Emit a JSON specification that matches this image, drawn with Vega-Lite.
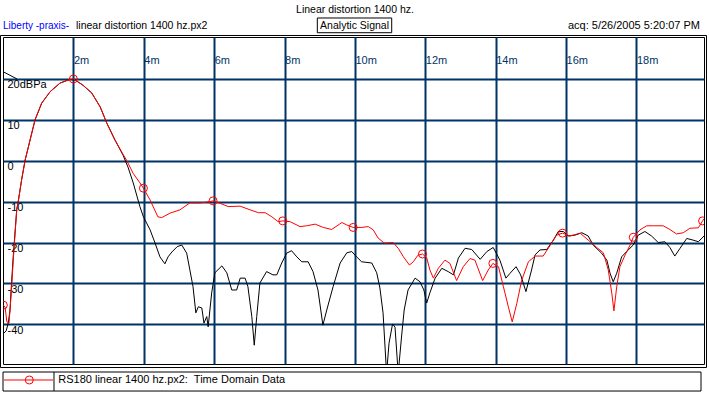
{
  "$schema": "https://vega.github.io/schema/vega-lite/v6.json",
  "width": 701,
  "height": 327,
  "autosize": {"type": "none"},
  "padding": {"left": 3, "top": 37, "right": 5, "bottom": 31},
  "background": "white",
  "config": {"view": {"stroke": "black", "strokeWidth": 1}, "font": "Liberation Sans", "text": {"font": "Liberation Sans", "fontSize": 10.5}},
  "datasets": {
    "black": [
      {"t":0.03,"db":-42.1},{"t":0.09,"db":-41.6},{"t":0.15,"db":-39.7},{"t":0.2,"db":-36.5},{"t":0.23,"db":-31.6},{"t":0.29,"db":-23.5},{"t":0.34,"db":-17.7},{"t":0.39,"db":-12.0},{"t":0.44,"db":-9.6},{"t":0.53,"db":-4.6},{"t":0.63,"db":0.2},{"t":0.77,"db":5.1},{"t":0.91,"db":10.0},{"t":1.1,"db":14.1},{"t":1.34,"db":16.9},{"t":1.62,"db":19.0},{"t":1.9,"db":19.9},{"t":2.05,"db":19.75},{"t":2.27,"db":18.5},{"t":2.52,"db":16.6},{"t":2.76,"db":13.2},{"t":2.95,"db":9.2},{"t":3.18,"db":5.1},{"t":3.41,"db":1.4},{"t":3.55,"db":-1.5},{"t":3.7,"db":-5.4},{"t":3.89,"db":-11.2},{"t":3.99,"db":-13.7},{"t":4.18,"db":-16.9},{"t":4.32,"db":-20.1},{"t":4.46,"db":-23.5},{"t":4.6,"db":-25.2},{"t":4.69,"db":-23.5},{"t":4.8,"db":-22.3},{"t":4.95,"db":-21.0},{"t":5.08,"db":-20.6},{"t":5.22,"db":-22.6},{"t":5.31,"db":-26.7},{"t":5.4,"db":-30.8},{"t":5.48,"db":-37.2},{"t":5.55,"db":-35.7},{"t":5.65,"db":-36.0},{"t":5.71,"db":-39.7},{"t":5.79,"db":-38.1},{"t":5.83,"db":-40.6},{"t":5.93,"db":-32.3},{"t":6.02,"db":-27.4},{"t":6.22,"db":-25.7},{"t":6.36,"db":-27.4},{"t":6.5,"db":-31.6},{"t":6.64,"db":-31.6},{"t":6.74,"db":-28.7},{"t":6.88,"db":-28.7},{"t":6.96,"db":-30.8},{"t":7.07,"db":-38.1},{"t":7.14,"db":-45.1},{"t":7.21,"db":-38.1},{"t":7.3,"db":-29.9},{"t":7.49,"db":-27.1},{"t":7.67,"db":-27.9},{"t":7.78,"db":-27.9},{"t":7.92,"db":-25.0},{"t":8.06,"db":-22.6},{"t":8.2,"db":-22.0},{"t":8.35,"db":-23.5},{"t":8.49,"db":-24.7},{"t":8.67,"db":-24.7},{"t":8.81,"db":-27.1},{"t":8.95,"db":-31.6},{"t":9.09,"db":-40.2},{"t":9.2,"db":-36.5},{"t":9.38,"db":-30.8},{"t":9.58,"db":-25.0},{"t":9.77,"db":-22.5},{"t":9.91,"db":-22.2},{"t":10.05,"db":-23.5},{"t":10.19,"db":-24.7},{"t":10.48,"db":-25.0},{"t":10.62,"db":-27.4},{"t":10.71,"db":-31.1},{"t":10.8,"db":-37.2},{"t":10.9,"db":-52},{"t":10.97,"db":-44.6},{"t":11.07,"db":-39.9},{"t":11.14,"db":-40.7},{"t":11.23,"db":-52},{"t":11.33,"db":-42.6},{"t":11.4,"db":-36.5},{"t":11.51,"db":-31.6},{"t":11.71,"db":-28.7},{"t":11.85,"db":-29.6},{"t":11.96,"db":-31.6},{"t":12.04,"db":-34.8},{"t":12.13,"db":-32.3},{"t":12.28,"db":-28.7},{"t":12.47,"db":-26.3},{"t":12.65,"db":-27.1},{"t":12.8,"db":-27.9},{"t":12.94,"db":-23.8},{"t":13.13,"db":-21.4},{"t":13.32,"db":-21.7},{"t":13.56,"db":-24.1},{"t":13.75,"db":-22.2},{"t":13.93,"db":-21.2},{"t":14.12,"db":-24.3},{"t":14.29,"db":-28.7},{"t":14.41,"db":-27.5},{"t":14.58,"db":-25.9},{"t":14.71,"db":-27.9},{"t":14.86,"db":-32.0},{"t":15.02,"db":-26.7},{"t":15.12,"db":-23.0},{"t":15.26,"db":-21.8},{"t":15.45,"db":-21.7},{"t":15.64,"db":-19.4},{"t":15.78,"db":-17.3},{"t":15.92,"db":-17.3},{"t":16.06,"db":-18.4},{"t":16.25,"db":-18.2},{"t":16.45,"db":-17.6},{"t":16.63,"db":-18.4},{"t":16.77,"db":-20.6},{"t":17.01,"db":-22.6},{"t":17.16,"db":-24.3},{"t":17.25,"db":-27.5},{"t":17.34,"db":-29.6},{"t":17.44,"db":-27.5},{"t":17.58,"db":-23.5},{"t":17.72,"db":-22.2},{"t":17.91,"db":-20.6},{"t":18.05,"db":-18.2},{"t":18.24,"db":-17.3},{"t":18.43,"db":-18.4},{"t":18.62,"db":-20.0},{"t":18.81,"db":-19.8},{"t":18.95,"db":-21.2},{"t":19.09,"db":-23.3},{"t":19.24,"db":-21.4},{"t":19.43,"db":-19.0},{"t":19.61,"db":-19.4},{"t":19.76,"db":-19.8},{"t":19.92,"db":-18.4}
    ],
    "red": [
      {"t":0.01,"db":-35.3},{"t":0.06,"db":-35.8},{"t":0.11,"db":-39.4},{"t":0.17,"db":-39.7},{"t":0.21,"db":-35.3},{"t":0.24,"db":-31.6},{"t":0.29,"db":-24.5},{"t":0.34,"db":-18.2},{"t":0.39,"db":-12.0},{"t":0.44,"db":-9.6},{"t":0.53,"db":-4.6},{"t":0.63,"db":0.2},{"t":0.77,"db":5.1},{"t":0.91,"db":10.0},{"t":1.1,"db":14.1},{"t":1.34,"db":16.9},{"t":1.62,"db":19.0},{"t":1.9,"db":19.9},{"t":2.0,"db":20.0},{"t":2.05,"db":19.75},{"t":2.27,"db":18.5},{"t":2.52,"db":16.6},{"t":2.76,"db":13.2},{"t":2.95,"db":9.2},{"t":3.18,"db":5.1},{"t":3.41,"db":1.6},{"t":3.52,"db":0.0},{"t":3.7,"db":-3.1},{"t":3.89,"db":-5.4},{"t":3.99,"db":-6.7},{"t":4.18,"db":-9.6},{"t":4.4,"db":-13.7},{"t":4.51,"db":-13.9},{"t":4.75,"db":-12.8},{"t":5.03,"db":-12.0},{"t":5.31,"db":-10.3},{"t":5.6,"db":-10.3},{"t":5.88,"db":-10.0},{"t":5.97,"db":-9.8},{"t":6.17,"db":-10.4},{"t":6.4,"db":-11.2},{"t":6.74,"db":-11.1},{"t":7.02,"db":-12.0},{"t":7.26,"db":-12.7},{"t":7.45,"db":-12.7},{"t":7.64,"db":-13.7},{"t":7.82,"db":-14.9},{"t":7.95,"db":-14.7},{"t":8.16,"db":-14.9},{"t":8.44,"db":-16.1},{"t":8.63,"db":-15.9},{"t":8.87,"db":-15.5},{"t":9.1,"db":-16.3},{"t":9.34,"db":-16.8},{"t":9.63,"db":-15.1},{"t":9.77,"db":-15.7},{"t":9.95,"db":-16.3},{"t":10.19,"db":-16.3},{"t":10.38,"db":-16.1},{"t":10.52,"db":-16.9},{"t":10.66,"db":-18.9},{"t":10.83,"db":-20.1},{"t":11.09,"db":-20.0},{"t":11.23,"db":-21.4},{"t":11.38,"db":-23.5},{"t":11.55,"db":-25.5},{"t":11.66,"db":-24.7},{"t":11.79,"db":-23.1},{"t":11.92,"db":-22.8},{"t":12.04,"db":-23.7},{"t":12.13,"db":-26.7},{"t":12.23,"db":-28.7},{"t":12.37,"db":-26.3},{"t":12.56,"db":-24.3},{"t":12.7,"db":-25.1},{"t":12.89,"db":-29.3},{"t":13.08,"db":-25.9},{"t":13.27,"db":-23.9},{"t":13.41,"db":-24.3},{"t":13.63,"db":-29.3},{"t":13.79,"db":-26.7},{"t":13.92,"db":-25.1},{"t":14.08,"db":-25.9},{"t":14.22,"db":-30.8},{"t":14.36,"db":-35.7},{"t":14.47,"db":-39.4},{"t":14.6,"db":-34.9},{"t":14.74,"db":-29.2},{"t":14.93,"db":-24.7},{"t":15.12,"db":-23.3},{"t":15.35,"db":-23.3},{"t":15.54,"db":-20.8},{"t":15.73,"db":-18.2},{"t":15.9,"db":-17.7},{"t":16.11,"db":-18.4},{"t":16.4,"db":-17.7},{"t":16.63,"db":-19.4},{"t":16.87,"db":-21.2},{"t":17.06,"db":-22.5},{"t":17.2,"db":-26.7},{"t":17.3,"db":-32.4},{"t":17.36,"db":-36.7},{"t":17.44,"db":-30.8},{"t":17.53,"db":-25.9},{"t":17.68,"db":-23.0},{"t":17.82,"db":-20.6},{"t":17.91,"db":-18.7},{"t":18.1,"db":-16.9},{"t":18.29,"db":-15.9},{"t":18.48,"db":-15.9},{"t":18.76,"db":-15.9},{"t":18.95,"db":-16.8},{"t":19.14,"db":-17.9},{"t":19.33,"db":-17.6},{"t":19.52,"db":-16.5},{"t":19.76,"db":-16.4},{"t":19.88,"db":-14.7},{"t":19.92,"db":-14.2}
    ],
    "markers": [
      {"t":0.01,"db":-35.3},{"t":2.0,"db":20.0},{"t":3.99,"db":-6.7},{"t":5.97,"db":-9.8},{"t":7.95,"db":-14.7},{"t":9.95,"db":-16.3},{"t":11.92,"db":-22.8},{"t":13.92,"db":-25.1},{"t":15.9,"db":-17.7},{"t":17.91,"db":-18.7},{"t":19.88,"db":-14.7}
    ]
  },
  "layer": [
    {
      "data": {"name": "black"},
      "mark": {"type": "line", "color": "black", "strokeWidth": 1, "clip": true},
      "encoding": {
        "x": {"field": "t", "type": "quantitative",
          "scale": {"domain": [0, 19.92], "nice": false, "zero": false},
          "axis": {"orient": "top", "values": [2,4,6,8,10,12,14,16,18], "title": null, "domain": false, "ticks": false, "tickSize": 0, "grid": true, "gridColor": "#003366", "gridWidth": 2, "gridOpacity": 1, "labelExpr": "datum.value + 'm'", "labelAlign": "left", "labelDx": 3, "labelBaseline": "alphabetic", "labelPadding": -26.5, "labelColor": "#003366", "labelFontSize": 11, "labelFont": "Liberation Sans", "labelFlush": false, "labelOverlap": false}},
        "y": {"field": "db", "type": "quantitative",
          "scale": {"domain": [-49.7, 30.27], "nice": false, "zero": false},
          "axis": {"orient": "left", "values": [20,10,0,-10,-20,-30,-40], "title": null, "domain": false, "ticks": false, "tickSize": 0, "grid": true, "gridColor": "#003366", "gridWidth": 2, "gridOpacity": 1, "labelExpr": "datum.value == 20 ? '20dBPa' : '' + datum.value", "labelAlign": "left", "labelBaseline": "top", "labelPadding": -4, "labelDy": 3, "labelColor": "black", "labelFontSize": 11, "labelFont": "Liberation Sans", "labelFlush": false, "labelOverlap": false}}
      }
    },
    {
      "data": {"name": "red"},
      "mark": {"type": "line", "color": "#ff0000", "strokeWidth": 1, "clip": true},
      "encoding": {
        "x": {"field": "t", "type": "quantitative"},
        "y": {"field": "db", "type": "quantitative"}
      }
    },
    {
      "data": {"name": "markers"},
      "mark": {"type": "point", "shape": "circle", "filled": false, "color": "#ff0000", "size": 64, "strokeWidth": 1, "opacity": 1, "clip": true},
      "encoding": {
        "x": {"field": "t", "type": "quantitative"},
        "y": {"field": "db", "type": "quantitative"}
      }
    },
    {
      "data": {"values": [{}]},
      "mark": {"type": "rule", "color": "black", "strokeWidth": 1},
      "encoding": {
        "x": {"datum": 0, "type": "quantitative"},
        "y": {"datum": 21.8, "type": "quantitative"},
        "x2": {"datum": 0.4},
        "y2": {"datum": 20}
      }
    },
    {
      "data": {"values": [{}]},
      "mark": {"type": "rect", "fill": null, "fillOpacity": 0, "stroke": "black", "strokeWidth": 1},
      "encoding": {
        "x": {"datum": -0.071, "type": "quantitative"},
        "x2": {"datum": 19.991},
        "y": {"datum": 30.64, "type": "quantitative"},
        "y2": {"datum": -50.56}
      }
    },
    {
      "data": {"values": [{}]},
      "mark": {"type": "rect", "fill": "white", "stroke": "black", "strokeWidth": 1},
      "encoding": {
        "x": {"datum": 0, "type": "quantitative"},
        "x2": {"datum": 19.835},
        "y": {"datum": -51.66, "type": "quantitative"},
        "y2": {"datum": -56.31}
      }
    },
    {
      "data": {"values": [{}]},
      "mark": {"type": "rule", "color": "black", "strokeWidth": 1},
      "encoding": {
        "x": {"datum": 1.449, "type": "quantitative"},
        "y": {"datum": -51.66, "type": "quantitative"},
        "y2": {"datum": -56.31}
      }
    },
    {
      "data": {"values": [{}]},
      "mark": {"type": "rule", "color": "#ff0000", "strokeWidth": 1},
      "encoding": {
        "x": {"datum": 0.028, "type": "quantitative"},
        "x2": {"datum": 1.421},
        "y": {"datum": -53.61, "type": "quantitative"}
      }
    },
    {
      "data": {"values": [{}]},
      "mark": {"type": "point", "shape": "circle", "filled": false, "color": "#ff0000", "size": 64, "strokeWidth": 1, "opacity": 1},
      "encoding": {
        "x": {"datum": 0.747, "type": "quantitative"},
        "y": {"datum": -53.61, "type": "quantitative"}
      }
    },
    {
      "data": {"values": [{}]},
      "mark": {"type": "text", "align": "left", "baseline": "middle", "color": "black", "fontSize": 11, "font": "Liberation Sans", "text": "RS180 linear 1400 hz.px2:\u00a0 Time Domain Data"},
      "encoding": {
        "x": {"datum": 1.571, "type": "quantitative"},
        "y": {"datum": -53.61, "type": "quantitative"}
      }
    },
    {
      "data": {"values": [{}]},
      "mark": {"type": "rect", "fill": "white", "stroke": "black", "strokeWidth": 1},
      "encoding": {
        "x": {"datum": 8.932, "type": "quantitative"},
        "x2": {"datum": 11.046},
        "y": {"datum": 34.92, "type": "quantitative"},
        "y2": {"datum": 31.32}
      }
    },
    {
      "data": {"values": [{}]},
      "mark": {"type": "text", "align": "center", "baseline": "middle", "color": "black", "fontSize": 10.5, "font": "Liberation Sans", "text": "Analytic Signal"},
      "encoding": {
        "x": {"datum": 9.99, "type": "quantitative"},
        "y": {"datum": 32.96, "type": "quantitative"}
      }
    },
    {
      "data": {"values": [{}]},
      "mark": {"type": "text", "align": "center", "baseline": "alphabetic", "color": "black", "fontSize": 10.5, "font": "Liberation Sans", "text": "Linear distortion 1400 hz."},
      "encoding": {
        "x": {"datum": 10.003, "type": "quantitative"},
        "y": {"datum": 36.14, "type": "quantitative"}
      }
    },
    {
      "data": {"values": [{}]},
      "mark": {"type": "text", "align": "left", "baseline": "middle", "color": "#0000ff", "fontSize": 10, "font": "Liberation Sans", "text": "Liberty -praxis-"},
      "encoding": {
        "x": {"datum": 0, "type": "quantitative"},
        "y": {"datum": 32.96, "type": "quantitative"}
      }
    },
    {
      "data": {"values": [{}]},
      "mark": {"type": "text", "align": "left", "baseline": "middle", "color": "black", "fontSize": 10.5, "font": "Liberation Sans", "text": "linear distortion 1400 hz.px2"},
      "encoding": {
        "x": {"datum": 2.074, "type": "quantitative"},
        "y": {"datum": 32.96, "type": "quantitative"}
      }
    },
    {
      "data": {"values": [{}]},
      "mark": {"type": "text", "align": "right", "baseline": "middle", "color": "black", "fontSize": 11, "font": "Liberation Sans", "text": "acq: 5/26/2005 5:20:07 PM"},
      "encoding": {
        "x": {"datum": 19.807, "type": "quantitative"},
        "y": {"datum": 32.96, "type": "quantitative"}
      }
    }
  ]
}
